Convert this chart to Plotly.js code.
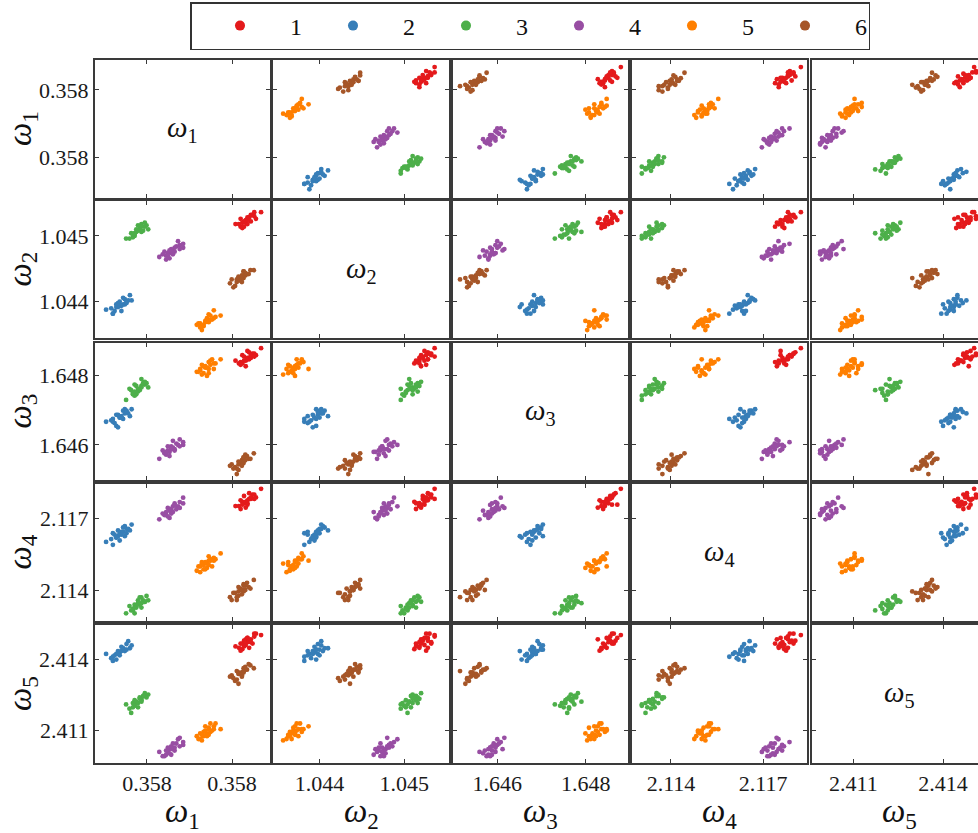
<!DOCTYPE html>
<html><head><meta charset="utf-8">
<script src="https://cdn.plot.ly/plotly-3.0.1.min.js"></script>
<style>html,body{margin:0;padding:0;overflow:hidden;background:#fff}</style>
</head><body><div id="chart" style="width:1000px;height:833px"></div>
<script>
const groups = ['1','2','3','4','5','6'];
const colors = ['#e41a1c','#377eb8','#4daf4a','#984ea3','#ff7f00','#a65628'];
const varLabels = ['<i>ω</i><sub>1</sub>','<i>ω</i><sub>2</sub>','<i>ω</i><sub>3</sub>','<i>ω</i><sub>4</sub>','<i>ω</i><sub>5</sub>'];
const tickVals = [[0.3579,0.3581],[1.044,1.045],[1.646,1.648],[2.114,2.117],[2.411,2.414]];
const tickText = [['0.358','0.358'],['1.044','1.045'],['1.646','1.648'],['2.114','2.117'],['2.411','2.414']];
const axisRanges = [[0.357778,0.358189],[1.04345,1.04553],[1.64499,1.64894],[2.11273,2.11843],[2.4096,2.41547]];

// group 1 (red)
const g1_w1 = [0.358108,0.358120,0.358116,0.358124,0.358128,0.358120,0.358132,0.358124,0.358136,0.358128,0.358140,0.358132,0.358136,0.358144,0.358136,0.358148,0.358140,0.358144,0.358152,0.358156,0.358152,0.358168];
const g1_w2 = [1.04518,1.04514,1.04518,1.04512,1.04514,1.04526,1.04520,1.04520,1.04518,1.04522,1.04528,1.04524,1.04528,1.04522,1.04524,1.04532,1.04528,1.04532,1.04530,1.04526,1.04536,1.04536];
const g1_w3 = [1.64843,1.64839,1.64835,1.64835,1.64843,1.64831,1.64827,1.64859,1.64851,1.64855,1.64847,1.64843,1.64847,1.64851,1.64871,1.64863,1.64867,1.64859,1.64863,1.64859,1.64855,1.64879];
const g1_w4 = [2.11751,2.11739,2.11751,2.11769,2.11763,2.11775,2.11745,2.11757,2.11763,2.11793,2.11781,2.11769,2.11775,2.11781,2.11757,2.11799,2.11805,2.11787,2.11799,2.11787,2.11781,2.11823];
const g1_w5 = [2.41456,2.41468,2.41450,2.41444,2.41456,2.41438,2.41486,2.41468,2.41474,2.41480,2.41450,2.41462,2.41492,2.41486,2.41492,2.41468,2.41480,2.41474,2.41510,2.41510,2.41498,2.41504];
// group 2 (blue)
const g2_w1 = [0.357804,0.357816,0.357820,0.357824,0.357820,0.357828,0.357832,0.357828,0.357836,0.357840,0.357832,0.357836,0.357844,0.357840,0.357848,0.357844,0.357848,0.357852,0.357856,0.357852,0.357860,0.357864];
const g2_w2 = [1.04388,1.04390,1.04382,1.04386,1.04382,1.04396,1.04392,1.04392,1.04394,1.04386,1.04398,1.04400,1.04396,1.04394,1.04396,1.04406,1.04404,1.04400,1.04402,1.04398,1.04410,1.04402];
const g2_w3 = [1.64667,1.64671,1.64675,1.64663,1.64667,1.64655,1.64651,1.64687,1.64679,1.64683,1.64687,1.64679,1.64675,1.64679,1.64703,1.64699,1.64691,1.64699,1.64691,1.64695,1.64683,1.64703];
const g2_w4 = [2.11602,2.11614,2.11590,2.11632,2.11638,2.11620,2.11626,2.11620,2.11608,2.11644,2.11650,2.11638,2.11644,2.11632,2.11626,2.11662,2.11668,2.11656,2.11656,2.11638,2.11650,2.11674];
const g2_w5 = [2.41424,2.41406,2.41412,2.41418,2.41394,2.41400,2.41436,2.41424,2.41430,2.41436,2.41424,2.41418,2.41442,2.41454,2.41442,2.41448,2.41436,2.41442,2.41478,2.41466,2.41448,2.41460];
// group 3 (green)
const g3_w1 = [0.357903,0.357899,0.357887,0.357895,0.357895,0.357891,0.357887,0.357879,0.357883,0.357887,0.357883,0.357875,0.357879,0.357871,0.357875,0.357871,0.357867,0.357871,0.357863,0.357867,0.357859,0.357851];
const g3_w2 = [1.04510,1.04516,1.04518,1.04514,1.04520,1.04508,1.04506,1.04516,1.04512,1.04514,1.04510,1.04506,1.04508,1.04504,1.04510,1.04500,1.04498,1.04502,1.04504,1.04502,1.04496,1.04496];
const g3_w3 = [1.64766,1.64778,1.64770,1.64774,1.64782,1.64778,1.64790,1.64754,1.64762,1.64766,1.64758,1.64770,1.64762,1.64774,1.64746,1.64742,1.64746,1.64754,1.64758,1.64750,1.64762,1.64730];
const g3_w4 = [2.11359,2.11377,2.11371,2.11353,2.11353,2.11359,2.11347,2.11359,2.11371,2.11329,2.11341,2.11329,2.11347,2.11341,2.11335,2.11305,2.11317,2.11329,2.11317,2.11323,2.11335,2.11305];
const g3_w5 = [2.41251,2.41239,2.41233,2.41245,2.41257,2.41245,2.41221,2.41215,2.41239,2.41227,2.41233,2.41221,2.41197,2.41209,2.41215,2.41203,2.41215,2.41227,2.41173,2.41197,2.41191,2.41209];
// group 4 (purple)
const g4_w1 = [0.357985,0.357977,0.357985,0.357969,0.357973,0.357977,0.357961,0.357965,0.357965,0.357957,0.357957,0.357961,0.357957,0.357949,0.357953,0.357953,0.357945,0.357949,0.357941,0.357937,0.357945,0.357929];
const g4_w2 = [1.04482,1.04486,1.04488,1.04484,1.04492,1.04480,1.04478,1.04476,1.04482,1.04480,1.04474,1.04472,1.04476,1.04474,1.04478,1.04466,1.04470,1.04470,1.04476,1.04472,1.04464,1.04468];
const g4_w3 = [1.64600,1.64596,1.64608,1.64604,1.64600,1.64616,1.64612,1.64588,1.64584,1.64588,1.64596,1.64592,1.64588,1.64596,1.64568,1.64580,1.64572,1.64584,1.64576,1.64584,1.64580,1.64560];
const g4_w4 = [2.11762,2.11768,2.11786,2.11738,2.11750,2.11744,2.11750,2.11762,2.11756,2.11720,2.11732,2.11726,2.11738,2.11744,2.11732,2.11702,2.11714,2.11708,2.11714,2.11720,2.11726,2.11696];
const g4_w5 = [2.41037,2.41031,2.41049,2.41043,2.41061,2.41067,2.41019,2.41013,2.41025,2.41031,2.41025,2.41043,2.40995,2.41007,2.41001,2.41019,2.41013,2.41025,2.40989,2.40989,2.40995,2.41007];
// group 5 (orange)
const g5_w1 = [0.358025,0.358017,0.358025,0.358033,0.358029,0.358021,0.358041,0.358033,0.358037,0.358029,0.358045,0.358041,0.358037,0.358045,0.358053,0.358045,0.358049,0.358057,0.358049,0.358061,0.358057,0.358073];
const g5_w2 = [1.04367,1.04365,1.04361,1.04363,1.04357,1.04367,1.04371,1.04365,1.04369,1.04363,1.04371,1.04375,1.04371,1.04369,1.04373,1.04381,1.04379,1.04375,1.04373,1.04377,1.04387,1.04379];
const g5_w3 = [1.64815,1.64811,1.64819,1.64807,1.64803,1.64811,1.64799,1.64827,1.64823,1.64831,1.64819,1.64823,1.64827,1.64807,1.64847,1.64839,1.64843,1.64835,1.64831,1.64835,1.64819,1.64847];
const g5_w4 = [2.11500,2.11482,2.11476,2.11506,2.11512,2.11500,2.11494,2.11488,2.11488,2.11518,2.11524,2.11512,2.11518,2.11506,2.11500,2.11542,2.11530,2.11536,2.11524,2.11530,2.11524,2.11554];
const g5_w5 = [2.41086,2.41074,2.41062,2.41074,2.41056,2.41062,2.41086,2.41092,2.41098,2.41080,2.41080,2.41074,2.41116,2.41110,2.41098,2.41104,2.41092,2.41104,2.41128,2.41128,2.41116,2.41104];
// group 6 (brown)
const g6_w1 = [0.358099,0.358095,0.358111,0.358107,0.358103,0.358115,0.358111,0.358115,0.358123,0.358119,0.358115,0.358123,0.358127,0.358123,0.358131,0.358127,0.358135,0.358127,0.358139,0.358131,0.358143,0.358151];
const g6_w2 = [1.04434,1.04428,1.04430,1.04424,1.04422,1.04436,1.04434,1.04436,1.04430,1.04432,1.04438,1.04440,1.04436,1.04438,1.04440,1.04446,1.04442,1.04446,1.04442,1.04444,1.04448,1.04448];
const g6_w3 = [1.64544,1.64540,1.64532,1.64536,1.64532,1.64528,1.64516,1.64552,1.64556,1.64548,1.64544,1.64552,1.64548,1.64540,1.64572,1.64564,1.64568,1.64564,1.64560,1.64556,1.64560,1.64576];
const g6_w4 = [2.11360,2.11372,2.11360,2.11390,2.11390,2.11396,2.11372,2.11378,2.11384,2.11408,2.11414,2.11402,2.11396,2.11402,2.11402,2.11420,2.11432,2.11426,2.11414,2.11420,2.11408,2.11444];
const g6_w5 = [2.41333,2.41327,2.41315,2.41309,2.41321,2.41297,2.41351,2.41339,2.41333,2.41339,2.41345,2.41327,2.41363,2.41345,2.41357,2.41351,2.41357,2.41345,2.41381,2.41369,2.41375,2.41363];

const groupData = [
  [g1_w1,g1_w2,g1_w3,g1_w4,g1_w5],
  [g2_w1,g2_w2,g2_w3,g2_w4,g2_w5],
  [g3_w1,g3_w2,g3_w3,g3_w4,g3_w5],
  [g4_w1,g4_w2,g4_w3,g4_w4,g4_w5],
  [g5_w1,g5_w2,g5_w3,g5_w4,g5_w5],
  [g6_w1,g6_w2,g6_w3,g6_w4,g6_w5]
];

const W = 1000, H = 833;
const colPx = [[95,270],[273,449],[452.5,627.5],[632,807],[811.5,987]];
const rowPx = [[60,198],[201,338],[343,480],[484,621],[625,763]];
const serif = 'Liberation Serif, Times New Roman, serif';
const frame = '#3a3a3a';

const traces = [];
const layout = {
  width: W, height: H,
  margin: {l:0, r:0, t:0, b:0},
  paper_bgcolor: '#fff', plot_bgcolor: '#fff',
  showlegend: true,
  legend: {
    orientation: 'h', x: 0.19, xanchor: 'left', y: 1 - 2/H, yanchor: 'top',
    bordercolor: '#333', borderwidth: 1.5, bgcolor: '#fff',
    font: {family: serif, size: 24, color: '#111'},
    itemwidth: 90, entrywidth: 8, entrywidthmode: 'pixels'
  },
  annotations: []
};

function sfx(k){ return k === 1 ? '' : String(k); }

for (let r = 0; r < 5; r++) {
  for (let c = 0; c < 5; c++) {
    const k = r*5 + c + 1;
    const common = {
      showline: true, mirror: 'ticks', linecolor: frame, linewidth: 2,
      ticks: 'inside', ticklen: 4, tickwidth: 1, tickcolor: frame,
      showgrid: false, zeroline: false, fixedrange: true,
      tickfont: {family: serif, size: 22, color: '#1a1a1a'}
    };
    layout['xaxis'+sfx(k)] = Object.assign({}, common, {
      domain: [colPx[c][0]/W, colPx[c][1]/W],
      range: axisRanges[c], anchor: 'y'+sfx(k),
      tickmode: 'array', tickvals: tickVals[c], ticktext: tickText[c],
      showticklabels: r === 4
    });
    layout['yaxis'+sfx(k)] = Object.assign({}, common, {
      domain: [1 - rowPx[r][1]/H, 1 - rowPx[r][0]/H],
      range: axisRanges[r], anchor: 'x'+sfx(k),
      tickmode: 'array', tickvals: tickVals[r], ticktext: tickText[r],
      showticklabels: c === 0
    });
    if (r === c) {
      layout.annotations.push({
        text: varLabels[r], xref: 'x'+sfx(k)+' domain', yref: 'y'+sfx(k)+' domain',
        x: 0.5, y: 0.5, showarrow: false,
        font: {family: serif, size: 29, color: '#111'}
      });
      if (k !== 1) {
        // empty trace so that the diagonal frame is drawn
        traces.push({type: 'scatter', mode: 'markers', x: [null], y: [null],
          xaxis: 'x'+sfx(k), yaxis: 'y'+sfx(k), showlegend: false, hoverinfo: 'skip'});
      }
    } else {
      for (let g = 0; g < groups.length; g++) {
        traces.push({
          type: 'scatter', mode: 'markers',
          x: groupData[g][c], y: groupData[g][r],
          xaxis: 'x'+sfx(k), yaxis: 'y'+sfx(k),
          marker: {color: colors[g], size: 4.8},
          name: groups[g], legendgroup: groups[g], showlegend: false,
          hoverinfo: 'skip'
        });
      }
    }
  }
}
// legend entries
for (let g = 0; g < groups.length; g++) {
  traces.push({
    type: 'scatter', mode: 'markers', x: [null], y: [null],
    xaxis: 'x', yaxis: 'y', name: groups[g], legendgroup: groups[g],
    marker: {color: colors[g], size: 10}, showlegend: true, hoverinfo: 'skip'
  });
}
// axis titles
for (let i = 0; i < 5; i++) {
  layout.annotations.push({
    text: varLabels[i], xref: 'paper', yref: 'paper',
    x: (colPx[i][0] + colPx[i][1]) / 2 / W, y: 1 - 813/H,
    xanchor: 'center', yanchor: 'middle', showarrow: false,
    font: {family: serif, size: 33, color: '#111'}
  });
  layout.annotations.push({
    text: varLabels[i], xref: 'paper', yref: 'paper',
    x: 22/W, y: 1 - (rowPx[i][0] + rowPx[i][1]) / 2 / H,
    xanchor: 'center', yanchor: 'middle', textangle: -90, showarrow: false,
    font: {family: serif, size: 33, color: '#111'}
  });
}

Plotly.newPlot('chart', traces, layout, {displayModeBar: false, staticPlot: true});
</script>
</body></html>
